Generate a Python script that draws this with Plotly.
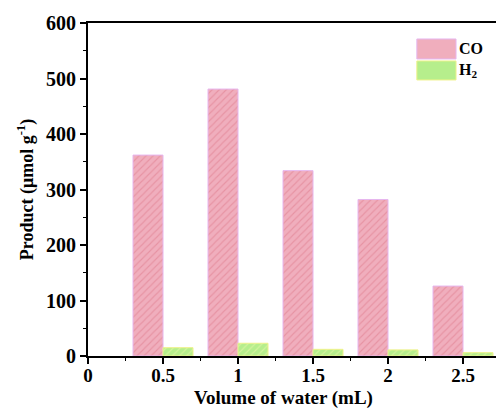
import plotly.graph_objects as go

# Volume of water added (mL) and product yields (µmol g^-1)
volume = [0.5, 1.0, 1.5, 2.0, 2.5]
co_yield = [362, 481, 334, 282, 126]
h2_yield = [15, 23, 12, 11, 6]

x_tickvals = [0, 0.5, 1, 1.5, 2, 2.5]
x_ticktext = ["0", "0.5", "1", "1.5", "2", "2.5"]

FONT = "Liberation Serif"

fig = go.Figure()

fig.add_trace(go.Bar(
    x=volume, y=co_yield, name="CO",
    width=0.2, offset=-0.2,
    marker=dict(
        color="#f0aebd",
        line=dict(color="#e6b6ee", width=1),
        pattern=dict(shape="/", fgcolor="#d86a7c", fgopacity=0.4,
                     size=5, solidity=0.22, fillmode="overlay"),
    ),
    showlegend=False,
))
fig.add_trace(go.Bar(
    x=volume, y=h2_yield, name="H2",
    width=0.2, offset=0,
    marker=dict(
        color="#b6ee8c",
        line=dict(color="#eef28a", width=1),
        pattern=dict(shape="/", fgcolor="#e8f7a8", fgopacity=0.6,
                     size=5, solidity=0.22, fillmode="overlay"),
    ),
    showlegend=False,
))

# Hand-drawn legend box in the upper right corner
legend_items = [("CO", "#f0aebd", "#e6b6ee", 0.952, 0.892),
                ("H<sub>2</sub>", "#b6ee8c", "#eef28a", 0.886, 0.829)]
shapes = []
annotations = []
for label, fill, edge, y1, y0 in legend_items:
    shapes.append(dict(type="rect", xref="paper", yref="paper",
                       x0=0.806, x1=0.902, y0=y0, y1=y1,
                       fillcolor=fill, line=dict(color=edge, width=1)))
    annotations.append(dict(xref="paper", yref="paper", x=0.905, y=(y0 + y1) / 2,
                            text=label, showarrow=False,
                            xanchor="left", yanchor="middle",
                            font=dict(family=FONT, size=16, color="black", weight="bold")))

# x-axis title, centred under the full drawing width
annotations.append(dict(xref="paper", yref="paper", x=0.48, y=-0.165,
                        text="Volume of water (mL)", showarrow=False,
                        xanchor="center", yanchor="bottom",
                        font=dict(family=FONT, size=19, color="black", weight="bold")))

fig.update_layout(
    width=496, height=411,
    margin=dict(l=88, r=0, t=23, b=55),
    paper_bgcolor="white", plot_bgcolor="white",
    barmode="overlay",
    font=dict(family=FONT, size=20, color="black"),
    shapes=shapes,
    annotations=annotations,
)

fig.update_xaxes(
    range=[0, 2.72],
    tickvals=x_tickvals, ticktext=x_ticktext,
    ticks="outside", ticklen=6, tickwidth=1.5, tickcolor="black",
    ticklabelstandoff=-5,
    minor=dict(dtick=0.25, tick0=0, ticks="outside", ticklen=3, tickcolor="black", tickwidth=1),
    showline=True, linecolor="black", linewidth=2, mirror=True,
    showgrid=False, zeroline=False,
    tickfont=dict(family=FONT, size=19, weight="bold"),
)
fig.update_yaxes(
    range=[0, 600], dtick=100,
    ticks="outside", ticklen=6, tickwidth=1.5, tickcolor="black",
    minor=dict(dtick=50, ticks="outside", ticklen=3, tickcolor="black", tickwidth=1),
    showline=True, linecolor="black", linewidth=2, mirror=False,
    showgrid=False, zeroline=False,
    tickfont=dict(family=FONT, size=20, weight="bold"),
    title=dict(text="Product (μmol g<sup>-1</sup>)", standoff=8,
               font=dict(family=FONT, size=18, weight="bold")),
)

fig.write_html("out.html")
